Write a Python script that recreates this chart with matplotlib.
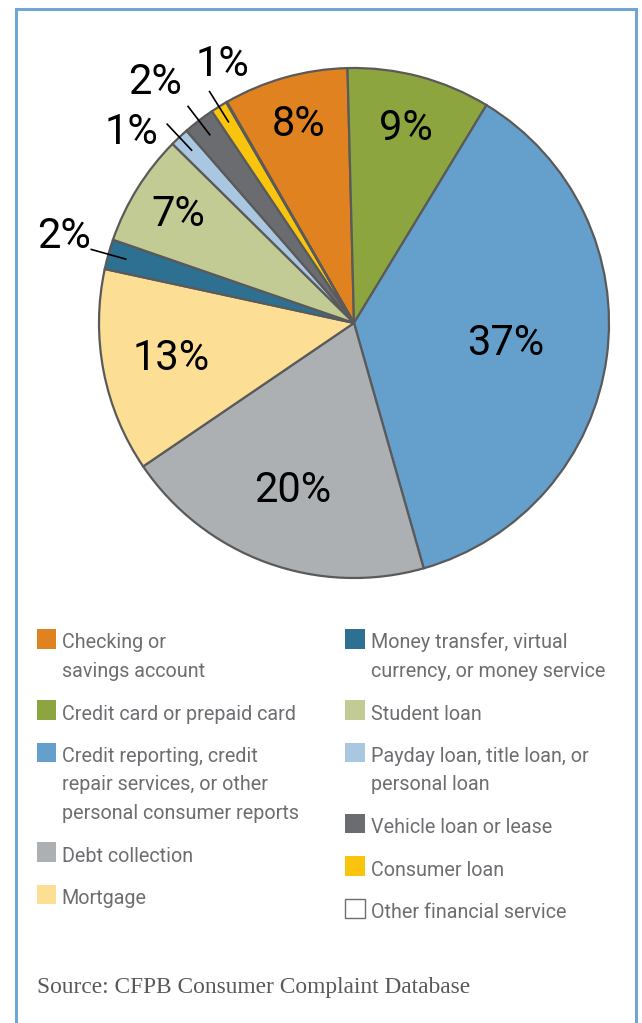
import matplotlib
matplotlib.use("Agg")
import matplotlib.pyplot as plt
from matplotlib.patches import Rectangle
import numpy as np

# Complaint shares by product (clockwise from the top-left of the pie)
products = [
    "Checking or\nsavings account",
    "Credit card or prepaid card",
    "Credit reporting, credit\nrepair services, or other\npersonal consumer reports",
    "Debt collection",
    "Mortgage",
    "Money transfer, virtual\ncurrency, or money service",
    "Student loan",
    "Payday loan, title loan, or\npersonal loan",
    "Vehicle loan or lease",
    "Consumer loan",
    "Other financial service",
]
shares = [7.9, 9.1, 36.9, 19.9, 12.9, 1.9, 7.1, 1.2, 2.0, 1.05, 0.05]
pct_labels = ["8%", "9%", "37%", "20%", "13%", "2%", "7%", "1%", "2%", "1%", ""]
colors = ["#E0821F", "#8DA53E", "#64A0CB", "#ADB0B3", "#FCDF95", "#2D7092",
          "#C2CB94", "#AAC7E1", "#6B6C70", "#F8C40E", "#FFFFFF"]

# legend columns (indices into products)
left_col = [0, 1, 2, 3, 4]
right_col = [5, 6, 7, 8, 9, 10]

SOURCE = "Source: CFPB Consumer Complaint Database"

W, H = 642, 1023
SANS = ["Roboto", "DejaVu Sans"]
TEXT_GRAY = "#6D6E71"

fig = plt.figure(figsize=(W / 100, H / 100), dpi=100)

# pie axes: center (354, 323) px, radius 255 px
cx, cy, r = 354, 323, 255
ax = fig.add_axes([(cx - r) / W, (H - cy - r) / H, 2 * r / W, 2 * r / H])
wedges, _ = ax.pie(shares, colors=colors, startangle=119.9, counterclock=False,
                   wedgeprops=dict(edgecolor="#5A5A5A", linewidth=1.6))
ax.set_xlim(-1, 1)
ax.set_ylim(-1, 1)
ax.set_aspect("equal")
ax.axis("off")

# inside labels: label radius per slice
inside_r = {0: 0.81, 1: 0.79, 2: 0.60, 3: 0.70, 4: 0.73, 6: 0.81}
# outside labels with leader lines: text position in data coords
outside_xy = {5: (-1.137, 0.341), 7: (-0.871, 0.749), 8: (-0.78, 0.945), 9: (-0.514, 1.012)}

for i, w in enumerate(wedges):
    mid = np.deg2rad((w.theta1 + w.theta2) / 2)
    if i in inside_r:
        rr = inside_r[i]
        ax.text(rr * np.cos(mid), rr * np.sin(mid), pct_labels[i], ha="center", va="center",
                fontsize=30, family=SANS, color="black")
    elif i in outside_xy:
        ax.plot([0.93 * np.cos(mid), 1.07 * np.cos(mid)],
                [0.93 * np.sin(mid), 1.07 * np.sin(mid)],
                color="black", linewidth=1.2, clip_on=False)
        tx, ty = outside_xy[i]
        ax.text(tx, ty, pct_labels[i], ha="center", va="center",
                fontsize=30, family=SANS, color="black")

# overlay in pixel coordinates for frame, legend and source
ov = fig.add_axes([0, 0, 1, 1])
ov.set_xlim(0, W)
ov.set_ylim(H, 0)
ov.axis("off")

# light blue frame (open at the bottom)
ov.plot([15.5, 15.5, 636.3, 636.3], [H + 5, 8.7, 8.7, H + 5], color="#70A5D5",
        linewidth=2.2, solid_joinstyle="miter", clip_on=False)

LINE = 28.5
GAP = 14
SQ = 19.5


def draw_column(items, sq_x, txt_x):
    top = 629
    for i in items:
        ec = "#6D6E71" if colors[i] == "#FFFFFF" else "none"
        ov.add_patch(Rectangle((sq_x, top), SQ, SQ, facecolor=colors[i],
                               edgecolor=ec, linewidth=1.0))
        lines = products[i].split("\n")
        for k, line in enumerate(lines):
            ov.text(txt_x, top + SQ + k * LINE, line, ha="left", va="baseline",
                    fontsize=14.2, family=SANS, color=TEXT_GRAY)
        top += len(lines) * LINE + GAP


draw_column(left_col, 36.5, 61.5)
draw_column(right_col, 345, 371)

ov.text(37, 993, SOURCE, ha="left", va="baseline", fontsize=16.8,
        family=["Liberation Serif", "DejaVu Serif"], color="#58595B")

fig.savefig("out.png", dpi=100)
